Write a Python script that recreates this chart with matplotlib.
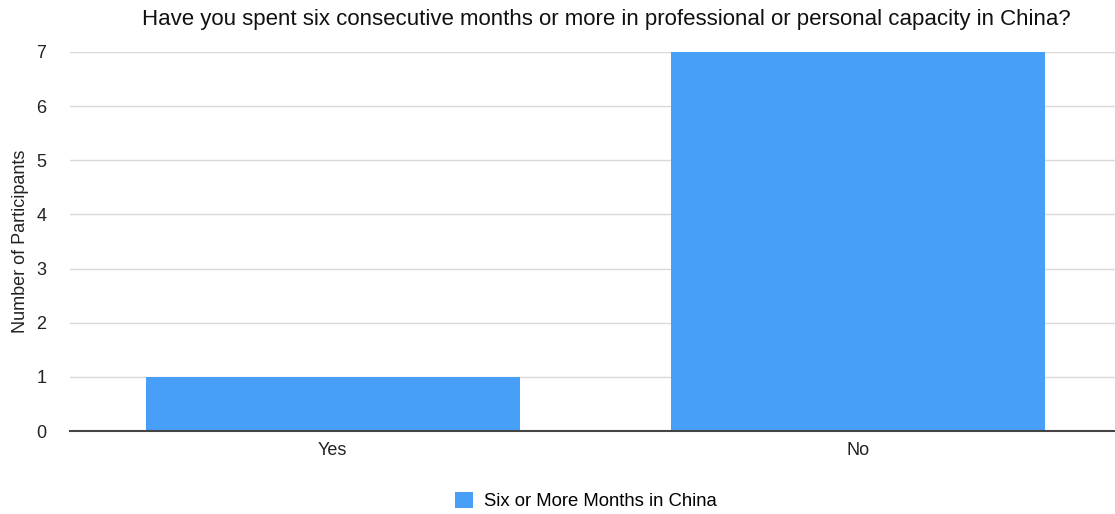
import matplotlib
matplotlib.use("Agg")
import matplotlib.pyplot as plt
from matplotlib.patches import Patch

categories = ["Yes", "No"]
participants = [1, 7]
series_name = "Six or More Months in China"
title = "Have you spent six consecutive months or more in professional or personal capacity in China?"
y_ticks = [0, 1, 2, 3, 4, 5, 6, 7]

plt.rcParams["font.family"] = ["Liberation Sans", "DejaVu Sans"]
bar_color = "#479FF8"

fig = plt.figure(figsize=(11.15, 5.14), dpi=100)
ax = fig.add_axes([70 / 1115, 1 - 431 / 514, 1051 / 1115, (431 - 52) / 514])

x = list(range(len(categories)))
ax.bar(x, participants, width=0.712, color=bar_color, zorder=2)
ax.set_xlim(-0.5, len(categories) - 0.5)
ax.set_ylim(0, 7)
ax.set_yticks(y_ticks)
ax.set_xticks(x)
ax.set_xticklabels(categories)

ax.grid(axis="y", color="#d9d9d9", linewidth=1, zorder=0)
for s in ["top", "right", "left"]:
    ax.spines[s].set_visible(False)
ax.spines["bottom"].set_color("#444444")
ax.spines["bottom"].set_linewidth(1.5)
ax.spines["bottom"].set_zorder(3)
ax.tick_params(axis="both", length=0, labelsize=13, colors="#222222")
ax.tick_params(axis="y", pad=17)
ax.tick_params(axis="x", pad=8)

ax.set_ylabel("Number of Participants", fontsize=13, color="#222222", labelpad=5)
fig.text(606 / 1115, 1 - 19 / 514, title, ha="center", va="center",
         fontsize=16, color="#111111")

handle = Patch(facecolor=bar_color, edgecolor="none")
fig.legend([handle], [series_name], loc="center", bbox_to_anchor=(586 / 1115, 1 - 501 / 514),
           frameon=False, fontsize=13.3, handlelength=0.95, handleheight=0.95,
           handletextpad=0.6)

fig.savefig("out.png", dpi=100)
